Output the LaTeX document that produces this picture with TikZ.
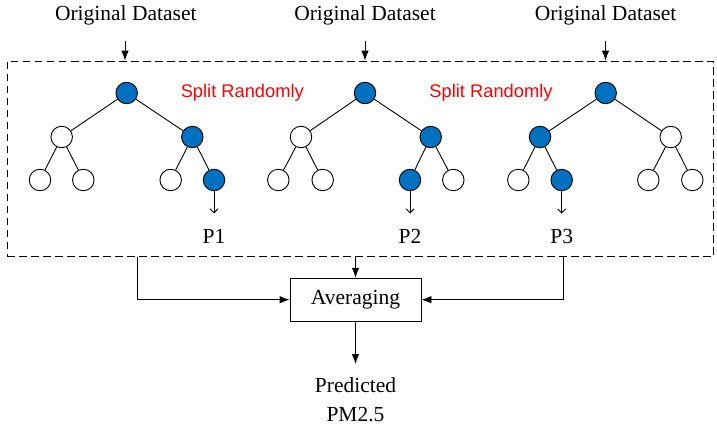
\documentclass[tikz,border=0pt]{standalone}
\usepackage{fontspec}
\setmainfont{Liberation Serif}
\newfontfamily\arialf{Liberation Sans}
\usetikzlibrary{arrows.meta,positioning}
\definecolor{nodeblue}{RGB}{0,112,192}
\begin{document}
\begin{tikzpicture}[x=1pt,y=-1pt,
  txt/.style={font=\fontsize{21.5}{29}\selectfont, inner sep=0pt},
  red/.style={font=\arialf\fontsize{18.3}{22}\selectfont, text={rgb,255:red,255;green,0;blue,0}, inner sep=0pt},
  tn/.style={circle, draw=black, line width=0.9pt, minimum size=21.5pt, inner sep=0pt, fill=white},
  bn/.style={tn, fill=nodeblue},
  edge/.style={line width=0.9pt},
  arr/.style={line width=0.9pt, -{Latex[length=10pt,width=7.5pt]}},
  parr/.style={line width=0.9pt, -{Straight Barb[length=4pt,width=8pt]}},
  frame/.style={draw, dashed, dash pattern=on 7.5pt off 4.5pt, line width=0.9pt, inner sep=0pt},
  box/.style={draw, line width=0.9pt, inner sep=0pt, minimum width=131pt, minimum height=43pt}
]
\useasboundingbox (0,0) rectangle (717,423);

% frame
\node[frame, minimum width=706pt, minimum height=195.5pt] (fr) at (360,158.8) {};

% datasets
\node[txt] (ds1) at (125.8,15) {Original Dataset};
\node[txt] (ds2) at (365,15) {Original Dataset};
\node[txt] (ds3) at (605.7,15) {Original Dataset};
\coordinate (a1) at (125,41);
\coordinate (a2) at (365,41);
\coordinate (a3) at (605.5,41);
\draw[arr] (a1) -- (a1 |- fr.north);
\draw[arr] (a2) -- (a2 |- fr.north);
\draw[arr] (a3) -- (a3 |- fr.north);

% split labels
\node[red] (s1) at (242.3,93) {Split Randomly};
\node[red] (s2) at (491,93) {Split Randomly};

% tree 1
\node[bn] (t1r) at (126.7,93) {};
\node[tn] (t1l) at (61.7,137) {};
\node[bn] (t1R) at (192.3,137) {};
\node[tn] (t1ll) at (40,180) {};
\node[tn] (t1lr) at (83.3,180) {};
\node[tn] (t1rl) at (170.7,180) {};
\node[bn] (t1rr) at (214,180) {};
\draw[edge] (t1r) -- (t1l); \draw[edge] (t1r) -- (t1R);
\draw[edge] (t1l) -- (t1ll); \draw[edge] (t1l) -- (t1lr);
\draw[edge] (t1R) -- (t1rl); \draw[edge] (t1R) -- (t1rr);

% tree 2
\node[bn] (t2r) at (365,93) {};
\node[tn] (t2l) at (301,137) {};
\node[bn] (t2R) at (430.7,137) {};
\node[tn] (t2ll) at (278.3,180) {};
\node[tn] (t2lr) at (322.7,180) {};
\node[bn] (t2rl) at (410,180) {};
\node[tn] (t2rr) at (453.3,180) {};
\draw[edge] (t2r) -- (t2l); \draw[edge] (t2r) -- (t2R);
\draw[edge] (t2l) -- (t2ll); \draw[edge] (t2l) -- (t2lr);
\draw[edge] (t2R) -- (t2rl); \draw[edge] (t2R) -- (t2rr);

% tree 3
\node[bn] (t3r) at (605.7,93) {};
\node[bn] (t3l) at (540,137) {};
\node[tn] (t3R) at (670.7,137) {};
\node[tn] (t3ll) at (518.3,180) {};
\node[bn] (t3lr) at (561.7,180) {};
\node[tn] (t3rl) at (648.3,180) {};
\node[tn] (t3rr) at (692.3,180) {};
\draw[edge] (t3r) -- (t3l); \draw[edge] (t3r) -- (t3R);
\draw[edge] (t3l) -- (t3ll); \draw[edge] (t3l) -- (t3lr);
\draw[edge] (t3R) -- (t3rl); \draw[edge] (t3R) -- (t3rr);

% predictions
\node[txt] (p1) at (214,236) {P1};
\node[txt] (p2) at (410,236) {P2};
\node[txt] (p3) at (561.7,236) {P3};
\coordinate (e1) at (214,213.5);
\coordinate (e2) at (410,213.5);
\coordinate (e3) at (561.7,213.5);
\draw[parr] (t1rr) -- (e1);
\draw[parr] (t2rl) -- (e2);
\draw[parr] (t3lr) -- (e3);

% averaging
\node[box, txt, minimum width=131pt, minimum height=43pt] (avg) at (355.5,299.7) {Averaging};
\coordinate (l1) at (137.7,256.5);
\coordinate (l3) at (563.3,256.5);
\draw[arr] (l1) |- (avg.west);
\draw[arr] (l3) |- (avg.east);
\draw[arr] (fr.south -| avg.north) -- (avg.north);

\node[txt, align=center] (out) at (355.5,400) {Predicted\\PM2.5};
\coordinate (o1) at (355.5,364);
\draw[arr] (avg.south) -- (o1);
\end{tikzpicture}
\end{document}
